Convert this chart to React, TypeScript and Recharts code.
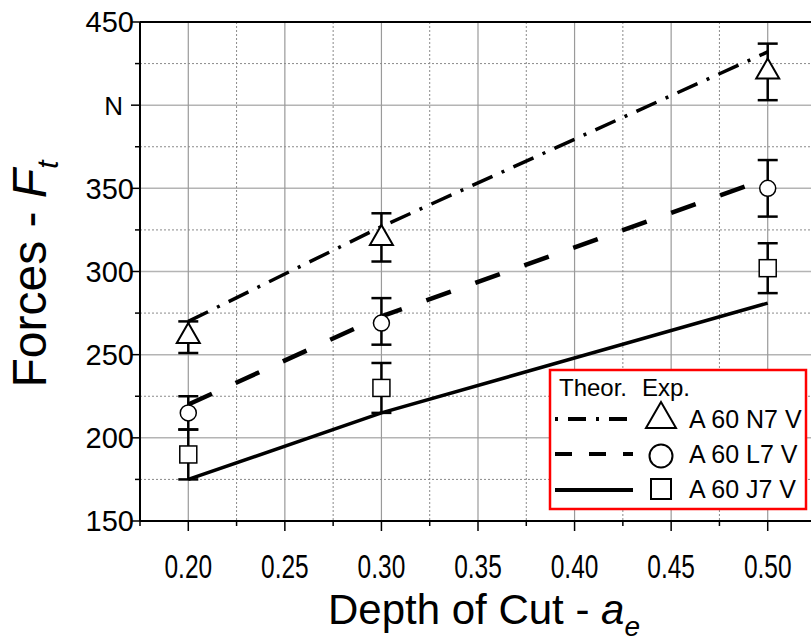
import React from 'react';
import {ComposedChart, Line, Scatter, ErrorBar, XAxis, YAxis, CartesianGrid, ReferenceLine} from 'recharts';

// depth of cut a_e (mm)
const depth = [0.2, 0.3, 0.5];

// theoretical tangential force
const theorN7 = [270, 327, 432];
const theorL7 = [220, 273, 356];
const theorJ7 = [175, 215, 281];

// experimental mean + scatter band
const expN7 = [263, 322, 422];
const lowN7 = [251, 306, 403];
const highN7 = [270, 335, 437];

const expL7 = [215, 269, 350];
const lowL7 = [205, 256, 333];
const highL7 = [225, 284, 367];

const expJ7 = [190, 230, 302];
const lowJ7 = [175, 215, 287];
const highJ7 = [205, 245, 317];

const xTicks = [0.175, 0.2, 0.225, 0.25, 0.275, 0.3, 0.325, 0.35, 0.375, 0.4, 0.425, 0.45, 0.475, 0.5, 0.525];
const yTicks = [150, 175, 200, 225, 250, 275, 300, 325, 350, 375, 400, 425, 450];
const yLabels: Record<number, string> = {150: '150', 200: '200', 250: '250', 300: '300', 350: '350', 400: 'N', 450: '450'};

const xMajor = [0.2, 0.25, 0.3, 0.35, 0.4, 0.45, 0.5];
const xMinor = [0.225, 0.275, 0.325, 0.375, 0.425, 0.475];
const yMajor = [200, 250, 300, 350, 400];
const yMinor = [175, 225, 275, 325, 375, 425];

const seriesNames = ['A 60 N7 V', 'A 60 L7 V', 'A 60 J7 V'];

const rows = depth.map((x, i) => ({
  x,
  thN: theorN7[i],
  thL: theorL7[i],
  thJ: theorJ7[i],
  exN: expN7[i],
  exL: expL7[i],
  exJ: expJ7[i],
  errN: [expN7[i] - lowN7[i], highN7[i] - expN7[i]],
  errL: [expL7[i] - lowL7[i], highL7[i] - expL7[i]],
  errJ: [expJ7[i] - lowJ7[i], highJ7[i] - expJ7[i]],
}));

const FONT = '"Liberation Sans", Arial, sans-serif';
const DASH_DOT = '22 10 3 10';
const DASH = '26 26';

const isMajorX = (v: number) => Math.round(v * 1000) % 50 === 0;

function XTick(props: any) {
  const {x, y, payload} = props;
  const v = payload.value;
  const major = isMajorX(v);
  return (
    <g>
      <line x1={x} x2={x} y1={y} y2={y + (major ? 10 : 5)} stroke="#000" strokeWidth={1.5}/>
      {major && (
        // narrow, tall digits on the depth axis
        <text transform={`translate(${x}, ${y + 57}) scale(0.72, 1)`} textAnchor="middle" fontSize={34}
              fontFamily={FONT} fill="#000">
          {v.toFixed(2)}
        </text>
      )}
    </g>
  );
}

function YTick(props: any) {
  const {x, y, payload} = props;
  const v = payload.value;
  const label = yLabels[v];
  const major = v % 50 === 0;
  const isUnit = label === 'N';
  return (
    <g>
      <line x1={x} x2={x - (major ? 9 : 5)} y1={y} y2={y} stroke="#000" strokeWidth={1.5}/>
      {label && (
        <text x={x - (isUnit ? 17 : 6)} y={y} dy="0.36em" textAnchor="end" fontSize={isUnit ? 26 : 29}
              fontFamily={FONT} fill="#000">
          {label}
        </text>
      )}
    </g>
  );
}

function Triangle({cx, cy, r = 10, w = 11.5, sw = 2}: any) {
  return <polygon points={`${cx},${cy - r} ${cx - w},${cy + r} ${cx + w},${cy + r}`}
                  fill="#fff" stroke="#000" strokeWidth={sw}/>;
}

function Circle({cx, cy, r = 8, sw = 1.5}: any) {
  return <circle cx={cx} cy={cy} r={r} fill="#fff" stroke="#000" strokeWidth={sw}/>;
}

function Square({cx, cy, s = 17, sw = 1.5}: any) {
  return <rect x={cx - s / 2} y={cy - s / 2} width={s} height={s} fill="#fff" stroke="#000" strokeWidth={sw}/>;
}

function LegendBox() {
  const rowsY = [419, 454, 490];
  const textY = [428, 463, 498];
  const dashes = ['3 10 18 10', '17 17', undefined];
  return (
    <g fontFamily={FONT}>
      <rect x={550} y={370} width={256} height={139} fill="#fff" stroke="#ff0000" strokeWidth={2.5}/>
      <text x={559} y={396} fontSize={24} fill="#000">Theor.</text>
      <text x={642} y={396} fontSize={24} fill="#000">Exp.</text>
      {rowsY.map((ry, i) => (
        <line key={'l' + i} x1={555} x2={633} y1={ry} y2={ry} stroke="#000" strokeWidth={4}
              strokeDasharray={dashes[i]}/>
      ))}
      <Triangle cx={661} cy={415} r={13} w={15} sw={2}/>
      <Circle cx={661} cy={456} r={11.5} sw={2}/>
      <Square cx={661} cy={489} s={20} sw={2}/>
      {seriesNames.map((n, i) => (
        <text key={'t' + i} x={689} y={textY[i]} fontSize={25} fill="#000">{n}</text>
      ))}
    </g>
  );
}

function AxisTitles() {
  return (
    <g fontFamily={FONT} fill="#000">
      <text x={484} y={624} textAnchor="middle" fontSize={42}>
        Depth of Cut - <tspan fontStyle="italic">a</tspan>
        <tspan fontStyle="italic" fontSize={28} dy={12}>e</tspan>
      </text>
      <text transform="translate(46, 274) rotate(-90)" textAnchor="middle" fontSize={48}>
        Forces - <tspan fontStyle="italic">F</tspan>
        <tspan fontStyle="italic" fontSize={30} dy={12}>t</tspan>
      </text>
    </g>
  );
}

export default function App() {
  return (
    <div style={{position: 'absolute', left: 0, top: 0, width: 811, height: 641, overflow: 'hidden', background: '#fff'}}>
      <ComposedChart width={816} height={641} data={rows}
                     margin={{top: 22, right: 0, bottom: 60, left: 0}}
                     style={{fontFamily: FONT}}>
        <CartesianGrid horizontal vertical={false} horizontalValues={yMajor} stroke="#b4b4b4" strokeWidth={1.5}/>
        <CartesianGrid horizontal={false} vertical verticalValues={xMajor} stroke="#9a9a9a" strokeWidth={1.2}/>
        <CartesianGrid horizontalValues={yMinor} verticalValues={xMinor} stroke="#8a8a8a" strokeWidth={1}
                       strokeDasharray="2 2"/>
        <XAxis dataKey="x" type="number" domain={[0.175, 0.525]} ticks={xTicks} interval={0}
               allowDataOverflow height={60} tickSize={0} tickMargin={0} tickLine={false}
               axisLine={{stroke: '#000', strokeWidth: 2}} tick={<XTick/>}/>
        <YAxis type="number" domain={[150, 450]} ticks={yTicks} interval={0} allowDataOverflow width={140}
               tickSize={0} tickMargin={0} tickLine={false}
               axisLine={{stroke: '#000', strokeWidth: 2}} tick={<YTick/>}/>
        <ReferenceLine y={450} stroke="#000" strokeWidth={2}/>

        <Scatter dataKey="exN" shape={(p: any) => <Triangle cx={p.cx} cy={p.cy}/>} isAnimationActive={false}>
          <ErrorBar dataKey="errN" direction="y" width={10} stroke="#000" strokeWidth={2.5}/>
        </Scatter>
        <Scatter dataKey="exL" shape={(p: any) => <Circle cx={p.cx} cy={p.cy}/>} isAnimationActive={false}>
          <ErrorBar dataKey="errL" direction="y" width={10} stroke="#000" strokeWidth={2.5}/>
        </Scatter>
        <Scatter dataKey="exJ" shape={(p: any) => <Square cx={p.cx} cy={p.cy}/>} isAnimationActive={false}>
          <ErrorBar dataKey="errJ" direction="y" width={10} stroke="#000" strokeWidth={2.5}/>
        </Scatter>

        <Line dataKey="thN" type="linear" stroke="#000" strokeWidth={3.5} strokeDasharray={DASH_DOT}
              dot={false} activeDot={false} isAnimationActive={false}/>
        <Line dataKey="thL" type="linear" stroke="#000" strokeWidth={4.5} strokeDasharray={DASH}
              dot={false} activeDot={false} isAnimationActive={false}/>
        <Line dataKey="thJ" type="linear" stroke="#000" strokeWidth={3.5}
              dot={false} activeDot={false} isAnimationActive={false}/>

        <LegendBox/>
        <AxisTitles/>
      </ComposedChart>
    </div>
  );
}
